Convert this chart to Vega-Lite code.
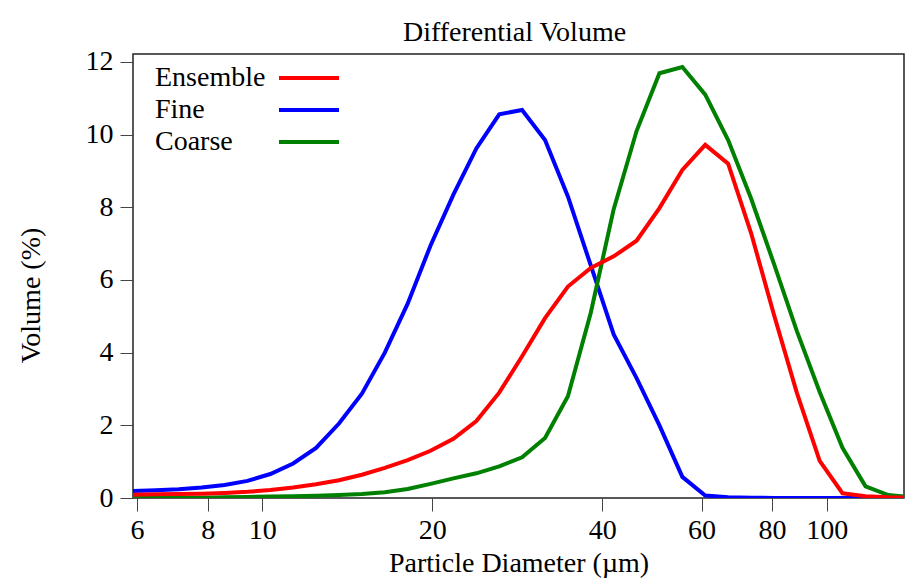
{
  "$schema": "https://vega.github.io/schema/vega-lite/v6.json",
  "width": 771,
  "height": 444,
  "autosize": {"type": "none"},
  "padding": {"left": 133, "top": 54, "right": 10, "bottom": 86},
  "background": "white",
  "title": {"text": "Differential Volume", "font": "Liberation Serif", "fontSize": 28, "fontWeight": "normal", "color": "black", "anchor": "middle", "baseline": "alphabetic", "offset": -21, "dx": -4},
  "data": {"values": [
    {"d": 5.9, "v": 0.19, "s": "Fine"}, {"d": 6.477, "v": 0.21, "s": "Fine"}, {"d": 7.111, "v": 0.24, "s": "Fine"}, {"d": 7.807, "v": 0.29, "s": "Fine"}, {"d": 8.571, "v": 0.36, "s": "Fine"}, {"d": 9.41, "v": 0.47, "s": "Fine"}, {"d": 10.33, "v": 0.66, "s": "Fine"}, {"d": 11.34, "v": 0.95, "s": "Fine"}, {"d": 12.45, "v": 1.38, "s": "Fine"}, {"d": 13.67, "v": 2.05, "s": "Fine"}, {"d": 15.01, "v": 2.87, "s": "Fine"}, {"d": 16.48, "v": 4.0, "s": "Fine"}, {"d": 18.09, "v": 5.35, "s": "Fine"}, {"d": 19.86, "v": 6.95, "s": "Fine"}, {"d": 21.8, "v": 8.35, "s": "Fine"}, {"d": 23.94, "v": 9.62, "s": "Fine"}, {"d": 26.28, "v": 10.56, "s": "Fine"}, {"d": 28.85, "v": 10.68, "s": "Fine"}, {"d": 31.68, "v": 9.85, "s": "Fine"}, {"d": 34.78, "v": 8.3, "s": "Fine"}, {"d": 38.18, "v": 6.4, "s": "Fine"}, {"d": 41.92, "v": 4.5, "s": "Fine"}, {"d": 46.02, "v": 3.3, "s": "Fine"}, {"d": 50.52, "v": 2.0, "s": "Fine"}, {"d": 55.47, "v": 0.58, "s": "Fine"}, {"d": 60.9, "v": 0.07, "s": "Fine"}, {"d": 66.86, "v": 0.02, "s": "Fine"}, {"d": 73.4, "v": 0.01, "s": "Fine"}, {"d": 80.58, "v": 0.0, "s": "Fine"}, {"d": 88.47, "v": 0.0, "s": "Fine"}, {"d": 97.13, "v": 0.0, "s": "Fine"}, {"d": 106.6, "v": 0.0, "s": "Fine"}, {"d": 117.1, "v": 0.0, "s": "Fine"}, {"d": 128.5, "v": 0.0, "s": "Fine"}, {"d": 141.1, "v": 0.0, "s": "Fine"},
    {"d": 5.9, "v": 0.0, "s": "Coarse"}, {"d": 6.477, "v": 0.0, "s": "Coarse"}, {"d": 7.111, "v": 0.01, "s": "Coarse"}, {"d": 7.807, "v": 0.01, "s": "Coarse"}, {"d": 8.571, "v": 0.02, "s": "Coarse"}, {"d": 9.41, "v": 0.03, "s": "Coarse"}, {"d": 10.33, "v": 0.04, "s": "Coarse"}, {"d": 11.34, "v": 0.05, "s": "Coarse"}, {"d": 12.45, "v": 0.06, "s": "Coarse"}, {"d": 13.67, "v": 0.08, "s": "Coarse"}, {"d": 15.01, "v": 0.11, "s": "Coarse"}, {"d": 16.48, "v": 0.16, "s": "Coarse"}, {"d": 18.09, "v": 0.25, "s": "Coarse"}, {"d": 19.86, "v": 0.39, "s": "Coarse"}, {"d": 21.8, "v": 0.54, "s": "Coarse"}, {"d": 23.94, "v": 0.68, "s": "Coarse"}, {"d": 26.28, "v": 0.87, "s": "Coarse"}, {"d": 28.85, "v": 1.12, "s": "Coarse"}, {"d": 31.68, "v": 1.65, "s": "Coarse"}, {"d": 34.78, "v": 2.8, "s": "Coarse"}, {"d": 38.18, "v": 5.1, "s": "Coarse"}, {"d": 41.92, "v": 7.95, "s": "Coarse"}, {"d": 46.02, "v": 10.1, "s": "Coarse"}, {"d": 50.52, "v": 11.69, "s": "Coarse"}, {"d": 55.47, "v": 11.86, "s": "Coarse"}, {"d": 60.9, "v": 11.1, "s": "Coarse"}, {"d": 66.86, "v": 9.85, "s": "Coarse"}, {"d": 73.4, "v": 8.25, "s": "Coarse"}, {"d": 80.58, "v": 6.45, "s": "Coarse"}, {"d": 88.47, "v": 4.6, "s": "Coarse"}, {"d": 97.13, "v": 2.92, "s": "Coarse"}, {"d": 106.6, "v": 1.38, "s": "Coarse"}, {"d": 117.1, "v": 0.32, "s": "Coarse"}, {"d": 128.5, "v": 0.08, "s": "Coarse"}, {"d": 141.1, "v": 0.02, "s": "Coarse"},
    {"d": 5.9, "v": 0.09, "s": "Ensemble"}, {"d": 6.477, "v": 0.1, "s": "Ensemble"}, {"d": 7.111, "v": 0.11, "s": "Ensemble"}, {"d": 7.807, "v": 0.12, "s": "Ensemble"}, {"d": 8.571, "v": 0.14, "s": "Ensemble"}, {"d": 9.41, "v": 0.17, "s": "Ensemble"}, {"d": 10.33, "v": 0.22, "s": "Ensemble"}, {"d": 11.34, "v": 0.29, "s": "Ensemble"}, {"d": 12.45, "v": 0.38, "s": "Ensemble"}, {"d": 13.67, "v": 0.49, "s": "Ensemble"}, {"d": 15.01, "v": 0.64, "s": "Ensemble"}, {"d": 16.48, "v": 0.83, "s": "Ensemble"}, {"d": 18.09, "v": 1.04, "s": "Ensemble"}, {"d": 19.86, "v": 1.3, "s": "Ensemble"}, {"d": 21.8, "v": 1.63, "s": "Ensemble"}, {"d": 23.94, "v": 2.12, "s": "Ensemble"}, {"d": 26.28, "v": 2.9, "s": "Ensemble"}, {"d": 28.85, "v": 3.9, "s": "Ensemble"}, {"d": 31.68, "v": 4.95, "s": "Ensemble"}, {"d": 34.78, "v": 5.82, "s": "Ensemble"}, {"d": 38.18, "v": 6.33, "s": "Ensemble"}, {"d": 41.92, "v": 6.65, "s": "Ensemble"}, {"d": 46.02, "v": 7.08, "s": "Ensemble"}, {"d": 50.52, "v": 7.98, "s": "Ensemble"}, {"d": 55.47, "v": 9.03, "s": "Ensemble"}, {"d": 60.9, "v": 9.72, "s": "Ensemble"}, {"d": 66.86, "v": 9.2, "s": "Ensemble"}, {"d": 73.4, "v": 7.3, "s": "Ensemble"}, {"d": 80.58, "v": 5.05, "s": "Ensemble"}, {"d": 88.47, "v": 2.9, "s": "Ensemble"}, {"d": 97.13, "v": 1.02, "s": "Ensemble"}, {"d": 106.6, "v": 0.13, "s": "Ensemble"}, {"d": 117.1, "v": 0.05, "s": "Ensemble"}, {"d": 128.5, "v": 0.02, "s": "Ensemble"}, {"d": 141.1, "v": 0.01, "s": "Ensemble"}
  ]},
  "mark": {"type": "line", "strokeWidth": 4, "clip": true},
  "encoding": {
    "x": {
      "field": "d", "type": "quantitative",
      "scale": {"type": "log", "domain": [5.9, 137], "nice": false},
      "axis": {"title": "Particle Diameter (µm)", "values": [6, 8, 10, 20, 40, 60, 80, 100], "format": "d", "grid": false, "domain": false, "tickSize": 13, "tickColor": "#444", "labelPadding": 5, "labelFont": "Liberation Serif", "labelFontSize": 28, "labelColor": "black", "labelFlush": false, "labelOverlap": false, "titleFont": "Liberation Serif", "titleFontSize": 28, "titleFontWeight": "normal", "titleColor": "black", "titlePadding": 5}
    },
    "y": {
      "field": "v", "type": "quantitative",
      "scale": {"domain": [0, 12.22], "nice": false},
      "axis": {"title": "Volume (%)", "values": [0, 2, 4, 6, 8, 10, 12], "grid": false, "domain": false, "tickSize": 13, "tickColor": "#444", "labelPadding": 7, "labelFont": "Liberation Serif", "labelFontSize": 28, "labelColor": "black", "labelFlush": false, "titleFont": "Liberation Serif", "titleFontSize": 28, "titleFontWeight": "normal", "titleColor": "black", "titlePadding": 40, "titleY": 241}
    },
    "color": {
      "field": "s", "type": "nominal",
      "scale": {"domain": ["Ensemble", "Fine", "Coarse"], "range": ["#ff0000", "#0000ff", "#008000"]},
      "legend": {"title": null, "orient": "none", "legendX": 162, "legendY": 10, "direction": "vertical", "symbolType": "M-3,0H3", "symbolSize": 400, "symbolStrokeWidth": 4, "symbolOffset": 0, "labelOffset": -168, "labelFont": "Liberation Serif", "labelFontSize": 28, "labelColor": "black", "labelLimit": 300, "rowPadding": 4, "padding": 0}
    }
  },
  "config": {
    "view": {"stroke": "#222", "strokeWidth": 1.5},
    "font": "Liberation Serif"
  }
}
